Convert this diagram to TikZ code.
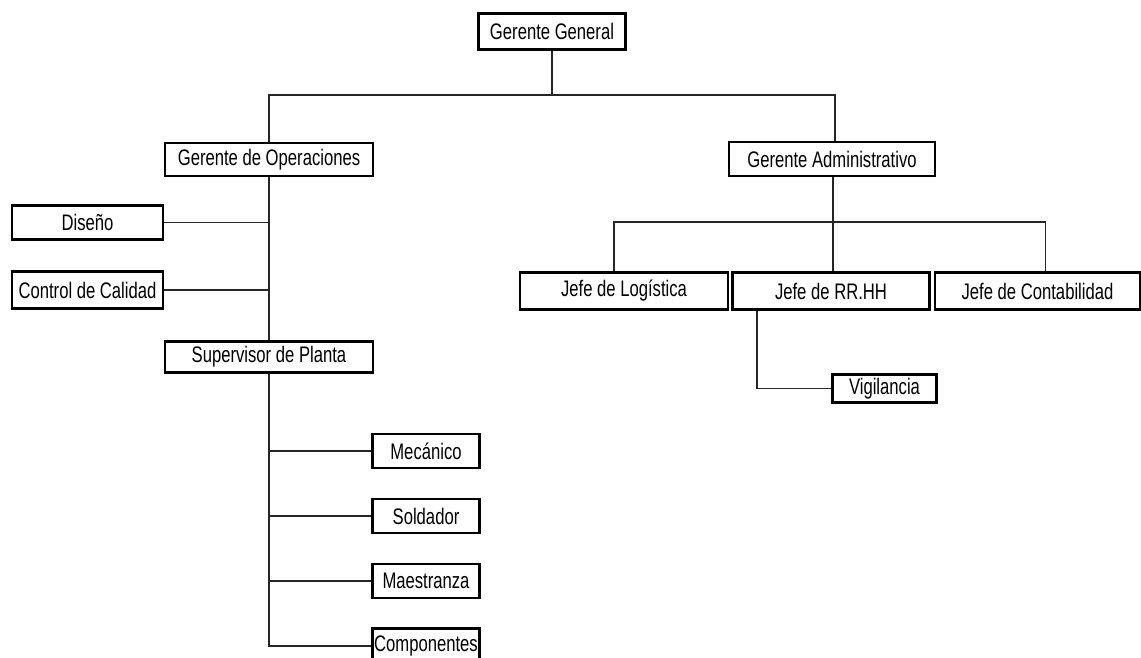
\documentclass[tikz,border=0pt]{standalone}
\usepackage{fontspec}
\setmainfont{Liberation Sans}[FakeStretch=0.74]
\begin{document}
\begin{tikzpicture}[x=1pt,y=-1pt,
  box/.style={draw=black,line width=2.8pt,fill=white,inner sep=0pt,
    font=\fontsize{22.5}{26}\selectfont,text=black},
  link/.style={draw=black!85,line width=1.3pt}]
\useasboundingbox[fill=white] (0,0) rectangle (1141,657);

% bus lines
\coordinate (bus1) at (552,95);
\coordinate (bus2) at (833,222);

% top level
\node[box,minimum width=147,minimum height=36] (gg)   at (552,31.5) {Gerente General};
\node[box,minimum width=208,minimum height=33] (ops)  at (269,159.5) {Gerente de Operaciones};
\node[box,minimum width=206,minimum height=34] (adm)  at (832,159) {Gerente Administrativo};

% operations branch
\node[box,minimum width=151,minimum height=34] (dis)  at (87.5,222.5) {Diseño};
\node[box,minimum width=151,minimum height=37] (cc)   at (87.5,290) {Control de Calidad};
\node[box,minimum width=208,minimum height=31] (sup)  at (269,357) {Supervisor de Planta};
\node[box,minimum width=107,minimum height=34] (mec)  at (426,451) {Mecánico};
\node[box,minimum width=107,minimum height=34] (sol)  at (426,516) {Soldador};
\node[box,minimum width=107,minimum height=34] (mae)  at (426,581) {Maestranza};
\node[box,minimum width=107,minimum height=35] (comp) at (426,646) {Componentes};

% administration branch
\node[box,minimum width=208,minimum height=37] (log)  at (624,291) {Jefe de Logística};
\node[box,minimum width=197,minimum height=37] (rr)   at (831,291) {Jefe de RR.HH};
\node[box,minimum width=205,minimum height=37] (cont) at (1037.5,291) {Jefe de Contabilidad};
\node[box,minimum width=104,minimum height=28] (vig)  at (884.5,388.5) {Vigilancia};

% connectors
\draw[link] (gg.south) -- (gg.south |- bus1);
\draw[link] (ops.north) -- (ops.north |- bus1) -- ([xshift=3]adm.north |- bus1) -- ([xshift=3]adm.north);

\draw[link] (ops.south) -- (sup.north);
\draw[link] (dis.east) -- (dis.east -| ops.south);
\draw[link] (cc.east) -- (cc.east -| ops.south);

\draw[link] (sup.south) |- (comp.west);
\draw[link] (mec.west) -- (mec.west -| sup.south);
\draw[link] (sol.west) -- (sol.west -| sup.south);
\draw[link] (mae.west) -- (mae.west -| sup.south);

\draw[link] ([xshift=1]adm.south) -- ([xshift=1]adm.south |- bus2);
\draw[link] ([xshift=-10]log.north) -- ([xshift=-10]log.north |- bus2)
  -- ([xshift=8]cont.north |- bus2) -- ([xshift=8]cont.north);
\draw[link] ([xshift=2]rr.north) -- ([xshift=2]rr.north |- bus2);
\draw[link] ([xshift=-74]rr.south) |- (vig.west);
\end{tikzpicture}
\end{document}
